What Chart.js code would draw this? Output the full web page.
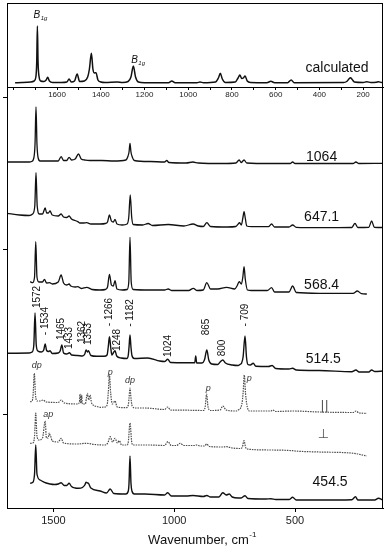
<!DOCTYPE html>
<html>
<head>
<meta charset="utf-8">
<script src="https://cdn.jsdelivr.net/npm/chart.js@4.4.1/dist/chart.umd.min.js"></script>
<style>
  html, body { margin: 0; padding: 0; background: #fff; }
  #wrap { position: relative; width: 388px; height: 550px; }
  .box { position: absolute; left: 0; top: 0; width: 388px; }
</style>
</head>
<body>
<div id="wrap">
  <div class="box" style="height:550px"><canvas id="mainChart"></canvas></div>
  <div class="box" style="height:100px"><canvas id="calcChart"></canvas></div>
</div>
<script>
// calculated spectrum (top panel): [wavenumber, intensity]
const calcSpectrum = [
  [1792, 4.3], [1760, 4.4], [1720, 5], [1705, 6], [1697, 10], [1693, 25], [1690, 61], [1687, 25],
  [1682, 10], [1675, 6], [1660, 5.5], [1650, 7], [1643, 9.7], [1635, 6], [1620, 4.5], [1580, 4.5],
  [1555, 5], [1545, 8], [1535, 5], [1520, 6], [1508, 13], [1497, 5.5], [1475, 6], [1460, 10],
  [1452, 18], [1443, 33.7], [1436, 18], [1430, 14], [1422, 14.3], [1413, 7], [1400, 5], [1380, 4.5],
  [1325, 5], [1300, 4.5], [1275, 5.5], [1262, 10], [1251, 21], [1241, 10], [1228, 5], [1200, 4.3],
  [1090, 4.3], [1075, 6], [1060, 4.3], [960, 4.3], [946, 5], [930, 4.3], [875, 5], [862, 9],
  [853, 13.7], [844, 8], [830, 4.5], [785, 5], [772, 9], [764, 12], [755, 8.5], [748, 9],
  [740, 11], [730, 6], [715, 4.5], [640, 4.3], [622, 5.7], [605, 4.3], [545, 4.3], [529, 7],
  [515, 4.3], [290, 4.5], [275, 5.5], [265, 8], [258, 9.3], [250, 7.5], [240, 5], [200, 4.5],
  [183, 5.3], [165, 4.5], [140, 4.7], [130, 5.3], [115, 4.5], [109, 4.5]
];

// excitation 1064 nm
const spec1064 = [
  [1692, 346], [1600, 346], [1590, 346.5], [1581, 350], [1576, 364], [1572, 401], [1568, 364],
  [1563, 350], [1555, 347], [1540, 347], [1480, 347], [1468, 351.3], [1458, 347.5], [1445, 347.5],
  [1435, 350.7], [1425, 348], [1410, 349], [1396, 354], [1385, 349], [1370, 348], [1350, 347.5],
  [1300, 347.5], [1250, 347], [1200, 348], [1191, 352], [1187, 356], [1183, 364.7], [1179, 356],
  [1175, 352], [1165, 347.5], [1100, 346.5], [1040, 346], [1031, 347.5], [1022, 345.5], [950, 345],
  [923, 346], [900, 345], [800, 344.5], [745, 345], [731, 348], [723, 345.5], [711, 348], [700, 345],
  [600, 344.5], [520, 344.5], [510, 346], [500, 344.5], [400, 344.5], [260, 344.5], [248, 346],
  [236, 344.5], [136, 344.7]
];

// 647.1 nm
const spec647 = [
  [1692, 294.7], [1640, 293], [1600, 292.5], [1586, 294], [1577, 302], [1572, 335.3], [1567, 302],
  [1558, 294], [1545, 294], [1534, 300], [1528, 295], [1521, 295], [1514, 297], [1505, 293],
  [1480, 292], [1468, 294], [1458, 291], [1445, 290.5], [1435, 292], [1425, 289], [1410, 287.5],
  [1399, 286.3], [1390, 285], [1375, 285], [1362, 285.3], [1345, 284], [1307, 284], [1285, 284.5],
  [1276, 286], [1268, 293], [1260, 287], [1252, 286], [1245, 288.7], [1237, 284], [1215, 283],
  [1195, 284], [1188, 291], [1182, 313], [1176, 291], [1170, 283.5], [1130, 283], [1108, 284.5],
  [1090, 282.5], [1025, 283.5], [960, 282], [922, 284], [900, 282], [880, 281.5], [865, 285.3],
  [850, 281.5], [780, 281], [745, 281.5], [735, 284], [730, 285.3], [722, 283], [716, 290],
  [711, 296.3], [706, 290], [700, 282], [680, 281.3], [610, 281.3], [597, 284], [585, 281],
  [525, 281], [510, 283], [495, 280.7], [400, 280.3], [265, 280.5], [252, 284.7], [240, 280.5],
  [195, 280.7], [183, 287], [172, 280.7], [136, 280.5]
];

// 568.4 nm
const spec568 = [
  [1596, 226.3], [1586, 225.3], [1578, 231], [1573, 266.3], [1568, 231], [1560, 226], [1545, 226],
  [1537, 228.7], [1528, 225], [1516, 225.3], [1505, 224], [1480, 226], [1468, 233], [1458, 225],
  [1445, 223], [1435, 224], [1428, 222], [1410, 221], [1399, 221.3], [1385, 219.5], [1362, 220.7],
  [1340, 218.5], [1307, 218], [1285, 218.5], [1276, 221], [1268, 233.7], [1260, 223], [1252, 222],
  [1245, 227.3], [1237, 219], [1215, 218], [1195, 218.5], [1188, 226], [1183, 270.7], [1178, 226],
  [1170, 218.5], [1100, 218], [1040, 218], [1025, 219], [1010, 217.5], [940, 217.5], [921, 219.7],
  [905, 217.5], [880, 218], [865, 225.3], [850, 219], [820, 219], [783, 220.7], [750, 219],
  [740, 222], [731, 226.3], [722, 224], [716, 231], [711, 241.3], [706, 229], [697, 218],
  [680, 217.5], [615, 217.5], [597, 220.3], [585, 216], [525, 216], [510, 222], [495, 215.5],
  [400, 214.7], [260, 214.7], [242, 217], [225, 214.3], [203, 214]
];

// 514.5 nm
const spec514 = [
  [1692, 154.7], [1600, 155], [1588, 156], [1581, 163], [1576, 195], [1571, 163], [1564, 157],
  [1550, 156], [1540, 158], [1534, 164], [1528, 157.5], [1520, 156.5], [1514, 157.3], [1505, 154.5],
  [1480, 155], [1472, 157], [1465, 163], [1458, 155], [1445, 154], [1433, 155.3], [1425, 153],
  [1400, 152.5], [1380, 152], [1370, 154], [1365, 158], [1359, 156], [1355, 157.3], [1345, 152.5],
  [1320, 151.7], [1290, 151.7], [1278, 153], [1273, 161], [1268, 171.3], [1263, 161], [1258, 153],
  [1250, 156], [1245, 157.3], [1238, 152], [1220, 150], [1195, 149.5], [1190, 153], [1187, 161],
  [1183, 173], [1179, 161], [1175, 152.5], [1165, 149.5], [1110, 150], [1060, 147], [1040, 146.5],
  [1027, 148.7], [1015, 145.5], [950, 145.3], [915, 145.3], [911, 152], [907, 145], [885, 145],
  [875, 148], [865, 158], [857, 148], [845, 144], [820, 143.5], [810, 146], [799, 148], [788, 145],
  [760, 143], [735, 142.5], [725, 144], [721, 145], [715, 151], [707, 172], [701, 151], [695, 143.5],
  [685, 143], [673, 144.7], [662, 141.7], [610, 141.5], [595, 142.5], [580, 139.5], [525, 139],
  [510, 139.7], [495, 138], [400, 137.5], [265, 136.3], [248, 138], [235, 136], [195, 136],
  [183, 138], [170, 136.5], [136, 137]
];

// 514.5 nm, parallel polarisation
const specPar = [
  [1596, 106.3], [1588, 107], [1584, 113], [1579, 134.7], [1574, 113], [1568, 107], [1555, 107],
  [1543, 108], [1530, 106], [1480, 105.5], [1468, 108], [1455, 105], [1400, 104], [1392, 106],
  [1390, 114], [1387, 105], [1385, 105], [1383, 113], [1380, 104], [1368, 104], [1362, 112],
  [1359, 114.7], [1354, 108], [1348, 113], [1342, 105], [1320, 101.5], [1307, 100.7], [1285, 101],
  [1277, 104], [1273, 115], [1268, 133], [1263, 115], [1256, 104], [1245, 107], [1236, 101],
  [1200, 100.3], [1190, 103], [1187, 110], [1183, 120], [1179, 110], [1174, 102], [1160, 100],
  [1121, 100], [1040, 98.5], [1027, 101], [1015, 98], [950, 97.8], [880, 97.5], [872, 101],
  [866, 114], [860, 101], [850, 97.5], [810, 98], [799, 102], [785, 98], [745, 97], [735, 98],
  [720, 104], [715, 115], [710, 133], [705, 115], [700, 104], [690, 97], [600, 97], [592, 98],
  [580, 96.5], [510, 97], [400, 96], [260, 95.5], [248, 97], [235, 95], [203, 94.7]
];

// 514.5 nm, perpendicular polarisation
const specPerp = [
  [1596, 64.7], [1585, 65], [1578, 72], [1573, 95], [1568, 72], [1560, 68], [1545, 70], [1534, 87],
  [1529, 70], [1522, 70], [1517, 75], [1513, 72], [1510, 71], [1505, 67], [1480, 66], [1468, 69.7],
  [1458, 65], [1400, 64], [1365, 64.7], [1330, 63.5], [1290, 63], [1275, 65], [1265, 71.3],
  [1255, 66], [1245, 69.7], [1235, 65], [1227, 67.3], [1218, 63], [1195, 63], [1190, 66],
  [1183, 85], [1176, 66], [1170, 63], [1100, 63], [1040, 62.5], [1026, 66.3], [1012, 62.5],
  [990, 62.5], [976, 64.7], [960, 62.5], [915, 62.5], [910, 63], [890, 62], [875, 62], [865, 64],
  [855, 61.5], [800, 61], [783, 61.3], [760, 60], [725, 59.5], [718, 61], [711, 67.3], [705, 61],
  [700, 59], [600, 58], [510, 57.3], [500, 57], [400, 56], [257, 54.7], [203, 52]
];

// 454.5 nm
const spec454 = [
  [1596, 24.7], [1586, 25.5], [1578, 34], [1573, 63], [1568, 34], [1555, 28], [1543, 26.3],
  [1530, 25], [1514, 24], [1495, 23.5], [1480, 24], [1468, 25.3], [1455, 22.5], [1445, 22.5],
  [1435, 24.7], [1425, 21.5], [1410, 20], [1396, 19.7], [1380, 20.5], [1370, 23], [1365, 25.7],
  [1359, 25], [1355, 24.7], [1345, 20], [1307, 17], [1280, 15], [1265, 19], [1250, 14.5],
  [1200, 14], [1190, 17], [1187, 25], [1183, 52], [1179, 25], [1175, 17], [1165, 14], [1121, 14],
  [1040, 13], [1027, 15.3], [1012, 12], [950, 12], [922, 12.5], [880, 11.5], [865, 12.5],
  [850, 11], [815, 11], [799, 15.3], [785, 13], [772, 14], [760, 11], [735, 10], [723, 10],
  [707, 12.3], [695, 9.5], [620, 9], [600, 9.3], [580, 8.5], [525, 8.5], [510, 10.7], [495, 8],
  [400, 8], [265, 8.3], [250, 11.3], [240, 8], [170, 8], [155, 9.7], [136, 8]
];

// text labels: [text, wavenumber, intensity]
const laserLabels = [
  ["1064", 390, 351], ["647.1", 390, 291], ["568.4", 390, 223], ["514.5", 383, 149], ["454.5", 355, 26]
];
const polarLabels = [["||", 378, 101], ["\u22A5", 383, 73]];
const symLabels = [
  ["dp", 1569, 143], ["p", 1265, 136], ["dp", 1183, 128], ["p", 859, 120], ["p", 690, 130], ["ap", 1521, 94]
];
const bandLabels = [
  ["1572", 1567, 211], ["- 1534", 1534, 187], ["1465", 1469, 179], ["1433", 1436, 170],
  ["1362", 1381, 176], ["1353", 1356, 174], ["- 1266", 1269, 196], ["1248", 1236, 168],
  ["- 1182", 1183, 195], ["1024", 1025, 162], ["865", 868, 181], ["800", 802, 160], ["- 709", 707, 193]
];
const calcLabels = [[1682, 72], [1235, 27]];
const calcTickValues = [1800, 1700, 1600, 1500, 1400, 1300, 1200, 1100, 1000, 900, 800, 700, 600, 500, 400, 300, 200];
const calcTickLabels = [1600, 1400, 1200, 1000, 800, 600, 400, 200];
const mainTickValues = [1500, 1000, 500];

const FONT = "'Liberation Sans', Arial, sans-serif";
const toXY = (arr) => arr.map((p) => ({ x: p[0], y: p[1] }));

// box around the plot area
const framePlugin = {
  id: "frame",
  afterDatasetsDraw(chart) {
    const { ctx, chartArea: a } = chart;
    ctx.save();
    ctx.strokeStyle = "#000";
    ctx.lineWidth = 1;
    ctx.strokeRect(Math.round(a.left) + 0.5, Math.round(a.top) + 0.5,
      Math.round(a.right - a.left) - 1, Math.round(a.bottom - a.top));
    ctx.restore();
  },
};

function lineSet(data, dotted, width) {
  return {
    data: toXY(data),
    borderColor: dotted ? "#4a4a4a" : "#111",
    borderWidth: width || 1.3,
    borderDash: dotted ? [1.5, 1] : [],
    pointRadius: 0,
    fill: false,
    cubicInterpolationMode: "monotone",
  };
}

// Main stacked panel
const mainTextPlugin = {
  id: "mainText",
  afterDraw(chart) {
    const { ctx } = chart;
    const xs = chart.scales.x, ys = chart.scales.y;
    ctx.save();
    ctx.fillStyle = "#111";
    ctx.textAlign = "center";
    ctx.textBaseline = "middle";
    ctx.font = "14px " + FONT;
    laserLabels.forEach(([t, wn, v]) => ctx.fillText(t, xs.getPixelForValue(wn), ys.getPixelForValue(v)));

    ctx.fillStyle = "#555";
    ctx.font = "13px 'DejaVu Sans', sans-serif";
    polarLabels.forEach(([t, wn, v]) => ctx.fillText(t, xs.getPixelForValue(wn), ys.getPixelForValue(v)));

    ctx.fillStyle = "#333";
    ctx.font = "italic 9px " + FONT;
    symLabels.forEach(([t, wn, v]) => ctx.fillText(t, xs.getPixelForValue(wn), ys.getPixelForValue(v)));

    ctx.fillStyle = "#111";
    ctx.font = "10px " + FONT;
    bandLabels.forEach(([t, wn, v]) => {
      ctx.save();
      ctx.translate(xs.getPixelForValue(wn), ys.getPixelForValue(v));
      ctx.rotate(-Math.PI / 2);
      ctx.fillText(t, 0, 0);
      ctx.restore();
    });

    // axis title with superscript
    ctx.font = "13px " + FONT;
    ctx.textAlign = "left";
    ctx.textBaseline = "alphabetic";
    const main = "Wavenumber, cm";
    const w1 = ctx.measureText(main).width;
    ctx.font = "8px " + FONT;
    const w2 = ctx.measureText("-1").width;
    const x0 = 202 - (w1 + w2) / 2;
    ctx.font = "13px " + FONT;
    ctx.fillText(main, x0, 544);
    ctx.font = "8px " + FONT;
    ctx.fillText("-1", x0 + w1 + 0.5, 537);
    ctx.restore();
  },
};

new Chart(document.getElementById("mainChart"), {
  type: "line",
  data: {
    datasets: [
      lineSet(spec1064, false),
      lineSet(spec647, false),
      lineSet(spec568, false),
      lineSet(spec514, false, 1.4),
      lineSet(specPar, true, 1.2),
      lineSet(specPerp, true, 1.2),
      lineSet(spec454, false, 1.4),
    ],
  },
  options: {
    responsive: true,
    maintainAspectRatio: false,
    animation: false,
    layout: { padding: { top: 87, right: 5, left: 0, bottom: 0 } },
    plugins: { legend: { display: false }, tooltip: { enabled: false } },
    scales: {
      x: {
        type: "linear",
        reverse: true,
        min: 136,
        max: 1692,
        afterFit: (s) => { s.height = 42; },
        afterBuildTicks: (s) => { s.ticks = mainTickValues.map((v) => ({ value: v })); },
        ticks: {
          font: { size: 11, family: FONT },
          color: "#222",
          padding: 2,
          maxRotation: 0,
          callback: (v) => String(v),
        },
        grid: { drawOnChartArea: false, tickLength: 4, color: "#000" },
        border: { color: "#000", width: 1 },
      },
      y: {
        min: 0,
        max: 421,
        afterFit: (s) => { s.width = 7; },
        afterBuildTicks: (s) => { s.ticks = [94, 258, 410].map((v) => ({ value: v })); },
        ticks: { display: false },
        grid: { drawOnChartArea: false, tickLength: 4, color: "#000" },
        border: { color: "#000", width: 1 },
      },
    },
  },
  plugins: [framePlugin, mainTextPlugin],
});

// Calculated spectrum panel
const calcTextPlugin = {
  id: "calcText",
  afterDraw(chart) {
    const { ctx } = chart;
    const xs = chart.scales.x, ys = chart.scales.y;
    ctx.save();
    ctx.fillStyle = "#111";
    ctx.textBaseline = "middle";
    ctx.textAlign = "center";
    ctx.font = "14px " + FONT;
    ctx.fillText("calculated", 337, 68);
    calcLabels.forEach(([wn, v]) => {
      const px = xs.getPixelForValue(wn), py = ys.getPixelForValue(v);
      ctx.font = "italic 10px " + FONT;
      ctx.textAlign = "right";
      ctx.fillText("B", px + 1, py);
      ctx.font = "italic 6px " + FONT;
      ctx.textAlign = "left";
      ctx.fillText("1g", px + 1.5, py + 3);
    });
    ctx.restore();
  },
};

new Chart(document.getElementById("calcChart"), {
  type: "line",
  data: { datasets: [lineSet(calcSpectrum, false, 1.5)] },
  options: {
    responsive: true,
    maintainAspectRatio: false,
    animation: false,
    layout: { padding: { top: 3, right: 5, left: 0, bottom: 0 } },
    plugins: { legend: { display: false }, tooltip: { enabled: false } },
    scales: {
      x: {
        type: "linear",
        reverse: true,
        min: 109,
        max: 1829,
        afterFit: (s) => { s.height = 13; },
        afterBuildTicks: (s) => { s.ticks = calcTickValues.map((v) => ({ value: v })); },
        ticks: {
          font: { size: 8, family: "'Liberation Sans Narrow', " + FONT },
          color: "#222",
          padding: 0,
          maxRotation: 0,
          autoSkip: false,
          callback: (v) => (calcTickLabels.includes(v) ? String(v) : ""),
        },
        grid: { drawOnChartArea: false, tickLength: 3, color: "#000" },
        border: { color: "#000", width: 1 },
      },
      y: {
        min: 0,
        max: 84,
        afterFit: (s) => { s.width = 7; },
        ticks: { display: false },
        grid: { display: false },
        border: { color: "#000", width: 1 },
      },
    },
  },
  plugins: [framePlugin, calcTextPlugin],
});
</script>
</body>
</html>
